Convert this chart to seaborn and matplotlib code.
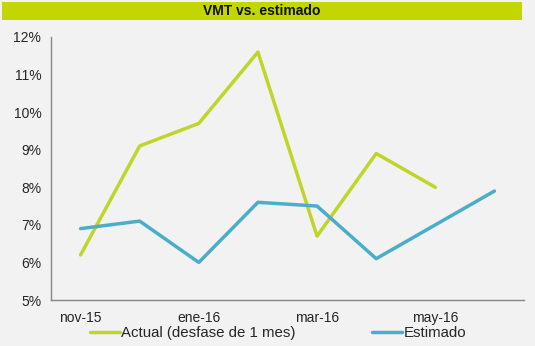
import numpy as np
import pandas as pd
import seaborn as sns
import matplotlib.pyplot as plt
from matplotlib.patches import Rectangle

meses = ['nov-15', 'dic-15', 'ene-16', 'feb-16', 'mar-16', 'abr-16', 'may-16', 'jun-16']
actual = [6.2, 9.1, 9.7, 11.6, 6.7, 8.9, 8.0, np.nan]
estimado = [6.9, 7.1, 6.0, 7.6, 7.5, 6.1, 7.0, 7.9]

sns.set_style('white')
plt.rcParams['font.family'] = ['Liberation Sans', 'DejaVu Sans']

df = pd.DataFrame({'pos': np.arange(len(meses)), 'mes': meses,
                   'Actual (desfase de 1 mes)': actual, 'Estimado': estimado})

fondo = '#f2f2f2'
fig = plt.figure(figsize=(5.35, 3.46), dpi=100, facecolor=fondo)

# barra del titulo
fig.patches.append(Rectangle((2 / 535, 1 - 20 / 346), 520 / 535, 18 / 346,
                             transform=fig.transFigure, facecolor='#c4d600', edgecolor='none'))
fig.text(262 / 535, 1 - 11 / 346, 'VMT vs. estimado', ha='center', va='center',
         fontsize=10, fontweight='bold', color='#111111')

ax = fig.add_axes([51 / 535, 1 - 300 / 346, 473 / 535, 263 / 346])
ax.set_facecolor(fondo)

sns.lineplot(data=df, x='pos', y='Actual (desfase de 1 mes)', ax=ax, color='#c0d52a',
             linewidth=2.5, label='Actual (desfase de 1 mes)', legend=False)
sns.lineplot(data=df, x='pos', y='Estimado', ax=ax, color='#4aaec8',
             linewidth=2.5, label='Estimado', legend=False)

ax.set_xlim(-0.5, len(meses) - 0.5)
ax.set_ylim(5, 12)
ax.set_yticks(range(5, 13))
ax.set_yticklabels([f'{v}%' for v in range(5, 13)])
ax.set_xticks(np.arange(-0.5, len(meses), 2))
ax.set_xticklabels([])
ax.set_xticks(np.arange(0, len(meses), 2), minor=True)
ax.set_xticklabels(meses[::2], minor=True)
ax.tick_params(axis='x', which='major', length=4, color='#868686', direction='out')
ax.tick_params(axis='x', which='minor', length=0, pad=8, labelsize=10)
ax.tick_params(axis='y', length=4, color='#868686', direction='out', labelsize=10, pad=3)
ax.set_xlabel('')
ax.set_ylabel('')
for s in ['top', 'right']:
    ax.spines[s].set_visible(False)
for s in ['left', 'bottom']:
    ax.spines[s].set_color('#868686')
    ax.spines[s].set_linewidth(1)

h, l = ax.get_legend_handles_labels()
fig.legend(h, l, loc='center', bbox_to_anchor=(278 / 535, 1 - 333 / 346), ncol=2,
           frameon=False, fontsize=10.8, handlelength=2.0, handletextpad=0.1,
           columnspacing=5.1, borderpad=0)

fig.savefig('out.png', dpi=100, facecolor=fondo)
